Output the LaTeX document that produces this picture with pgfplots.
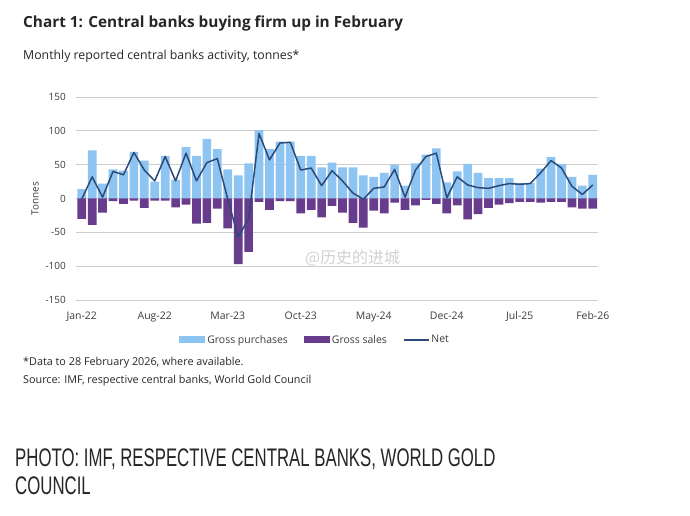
\documentclass[border=0pt]{standalone}
\usepackage{fontspec}
\usepackage{graphicx}
\usepackage{pgfplots}
\pgfplotsset{compat=1.18}
\setmainfont{Open Sans}
\newfontfamily\cond{Liberation Sans}
\newfontfamily\cjk{Noto Sans CJK SC}
\definecolor{gp}{RGB}{142,196,242}
\definecolor{gs}{RGB}{104,60,140}
\definecolor{netc}{RGB}{44,73,120}
\definecolor{gridc}{RGB}{205,205,205}
\definecolor{txt}{RGB}{38,38,38}
\definecolor{tick}{RGB}{60,60,60}
\begin{document}
\begin{tikzpicture}[x=1bp,y=1bp]
\useasboundingbox[fill=white] (0,0) rectangle (690,516);
% titles
\node[anchor=base west,inner sep=0pt,text=txt,font=\bfseries\fontsize{15.4}{18}\selectfont] at (23,488.7) {Chart 1: Central banks buying firm up in February};
\node[anchor=base west,inner sep=0pt,text=txt,font=\fontsize{12.35}{15}\selectfont] at (23,456.7) {Monthly reported central banks activity, tonnes*};
\begin{axis}[
  at={(76bp,216bp)}, anchor=south west,
  scale only axis, width=522bp, height=203bp,
  xmin=-0.55, xmax=49.5, ymin=-150, ymax=150,
  axis line style={draw=none}, major tick length=0pt,
  ytick={-150,-100,-50,0,50,100,150},
  yticklabels={-150,-100,-50,0,50,100,150},
  ymajorgrids, grid style={gridc, line width=0.9bp},
  xtick={0,7,14,21,28,35,42,49},
  xticklabels={Jan-22,Aug-22,Mar-23,Oct-23,May-24,Dec-24,Jul-25,Feb-26},
  xticklabel style={font=\fontsize{10.5}{12}\selectfont, text=tick, anchor=north, inner sep=0pt, yshift=-11.5bp},
  yticklabel style={font=\fontsize{10}{12}\selectfont, text=tick, anchor=east, inner sep=0pt, xshift=-10bp},
  ylabel={Tonnes},
  ylabel style={at={(axis description cs:-0.0785,0.5)}, anchor=center, font=\fontsize{10}{12}\selectfont, text=tick},
  legend columns=3,
  legend style={at={(0.458,-0.197)}, anchor=center, draw=none, fill=none,
    font=\fontsize{10.5}{12}\selectfont, text=tick, inner sep=0pt,
    /tikz/every even column/.append style={column sep=14bp}},
  legend cell align=left,
]
\addplot[ybar, fill=gp, draw=none, bar width=8.7bp, bar shift=0pt,
  legend image code/.code={\fill[gp] (0bp,-3.5bp) rectangle (26bp,3.5bp);}]
 coordinates {
 (0,14) (1,71) (2,22) (3,43) (4,41) (5,69) (6,56) (7,25) (8,63) (9,28)
 (10,76) (11,63) (12,88) (13,73) (14,43) (15,34) (16,52) (17,101) (18,73) (19,84)
 (20,84) (21,63) (22,63) (23,46) (24,53) (25,46) (26,46) (27,34) (28,32) (29,38)
 (30,50) (31,19) (32,52) (33,65) (34,74) (35,24) (36,40) (37,51) (38,38) (39,30)
 (40,30) (41,30) (42,23) (43,23) (44,44) (45,61) (46,51) (47,32) (48,19) (49,35)
 };
\addlegendentry{Gross purchases}
\addplot[ybar, fill=gs, draw=none, bar width=8.7bp, bar shift=0pt,
  legend image code/.code={\fill[gs] (0bp,-3.5bp) rectangle (26bp,3.5bp);}]
 coordinates {
 (0,-30) (1,-39) (2,-21) (3,-4) (4,-8) (5,-3) (6,-14) (7,-3) (8,-3) (9,-13)
 (10,-9) (11,-37) (12,-36) (13,-15) (14,-44) (15,-97) (16,-79) (17,-5) (18,-17) (19,-4)
 (20,-4) (21,-22) (22,-17) (23,-28) (24,-11) (25,-21) (26,-36) (27,-43) (28,-18) (29,-22)
 (30,-6) (31,-17) (32,-10) (33,-2) (34,-8) (35,-22) (36,-10) (37,-31) (38,-23) (39,-14)
 (40,-9) (41,-7) (42,-5) (43,-5) (44,-6) (45,-5) (46,-5) (47,-13) (48,-15) (49,-15)
 };
\addlegendentry{Gross sales}
\addplot[netc, line width=1.5bp, mark=none, line join=round,
  legend image code/.code={\draw[netc, line width=1.5bp] (0bp,0bp)--(25bp,0bp);}]
 coordinates {
 (0,-1) (1,32) (2,2) (3,40) (4,35) (5,68) (6,42) (7,26) (8,62) (9,26)
 (10,67) (11,26) (12,53) (13,59) (14,-1) (15,-57) (16,-30) (17,96) (18,57) (19,82)
 (20,83) (21,42) (22,45) (23,19) (24,41) (25,26) (26,8) (27,-1) (28,15) (29,17)
 (30,43) (31,2) (32,42) (33,62) (34,67) (35,1) (36,32) (37,20) (38,16) (39,15)
 (40,19) (41,22) (42,21) (43,22) (44,38) (45,56) (46,45) (47,18) (48,6) (49,20)
 };
\addlegendentry{Net}
\end{axis}
% watermark
\node[anchor=west,inner sep=0pt,text=black!18,font=\cjk\fontsize{16}{18}\selectfont] at (305,258) {@历史的进城};
% footnotes
\node[anchor=base west,inner sep=0pt,text=txt,font=\fontsize{10.85}{12}\selectfont] at (23,150.3) {*Data to 28 February 2026, where available.};
\node[anchor=base west,inner sep=0pt,text=txt,font=\fontsize{10.85}{12}\selectfont] at (23,132.7) {Source: IMF, respective central banks, World Gold Council};
% bottom caption
\node[anchor=base west,inner sep=0pt,text=txt] at (15,49.3) {\scalebox{0.661}[1]{\cond\fontsize{25.5}{30}\selectfont PHOTO: IMF, RESPECTIVE CENTRAL BANKS, WORLD GOLD}};
\node[anchor=base west,inner sep=0pt,text=txt] at (15,21) {\scalebox{0.661}[1]{\cond\fontsize{25.5}{30}\selectfont COUNCIL}};
\end{tikzpicture}
\end{document}
